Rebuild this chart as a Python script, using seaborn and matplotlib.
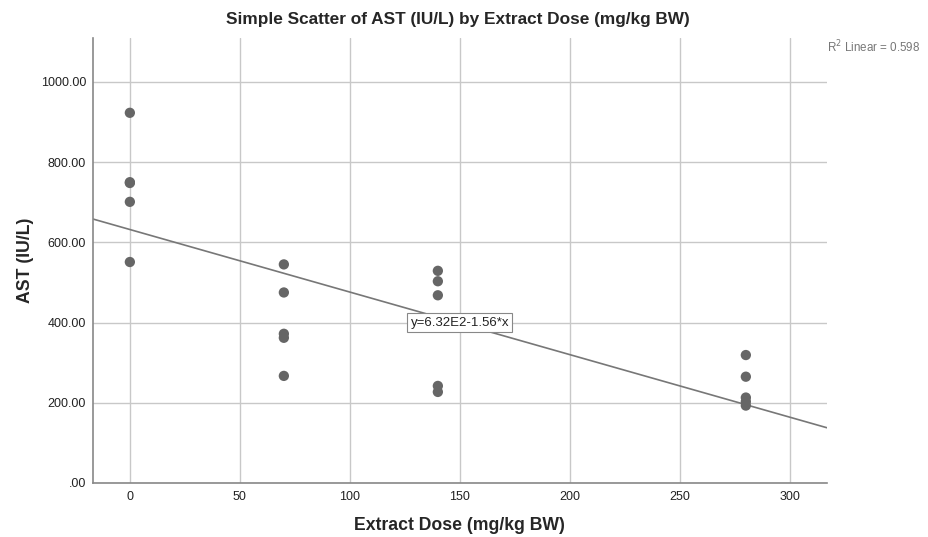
"""Simple scatter of AST against extract dose, with a linear fit line."""

import numpy as np
import pandas as pd
import matplotlib
matplotlib.use("Agg")
import matplotlib.pyplot as plt
import seaborn as sns

# Data
dose = [0, 0, 0, 0, 0,
        70, 70, 70, 70, 70,
        140, 140, 140, 140, 140,
        280, 280, 280, 280, 280]
ast = [923, 750, 748, 701, 551,
       545, 475, 372, 362, 267,
       529, 503, 468, 242, 227,
       319, 265, 213, 203, 193]

x_ticks = [0, 50, 100, 150, 200, 250, 300]
y_ticks = [0, 200, 400, 600, 800, 1000]
y_tick_labels = [".00", "200.00", "400.00", "600.00", "800.00", "1000.00"]

fit_label = "y=6.32E2-1.56*x"
r2_label = "R$^2$ Linear = 0.598"
intercept = 632.0
slope = -1.56

df = pd.DataFrame({"dose": dose, "ast": ast})

sns.set_style("white")
plt.rcParams["font.family"] = ["Liberation Sans", "DejaVu Sans"]

fig = plt.figure(figsize=(9.29, 5.37), dpi=100)
ax = fig.add_axes([0.100, 0.1006, 0.790, 0.829])

x_min, x_max = -16.8, 316.8
ax.set_xlim(x_min, x_max)
ax.set_ylim(0, 1110)

ax.set_axisbelow(True)
ax.grid(True, color="#c8c8c8", linewidth=1.0)

sns.scatterplot(data=df, x="dose", y="ast", ax=ax, color="#666666",
                s=55, edgecolor="none", zorder=3)

line_x = np.array([x_min, x_max])
sns.lineplot(x=line_x, y=intercept + slope * line_x, ax=ax,
             color="#777777", linewidth=1.2, zorder=2)

ax.text(150, 400, fit_label, ha="center", va="center", fontsize=9.5,
        color="#222222", zorder=4,
        bbox=dict(boxstyle="square,pad=0.25", facecolor="white",
                  edgecolor="#888888", linewidth=0.8))

fig.text(0.890, 0.912, r2_label, fontsize=8.4, color="#777777",
         ha="left", va="center")

ax.set_xticks(x_ticks)
ax.set_yticks(y_ticks)
ax.set_yticklabels(y_tick_labels)
ax.tick_params(length=0, labelsize=9, colors="#222222")
ax.tick_params(axis="y", pad=5)
ax.tick_params(axis="x", pad=6)

for side in ["top", "right"]:
    ax.spines[side].set_visible(False)
for side in ["left", "bottom"]:
    ax.spines[side].set_color("#888888")
    ax.spines[side].set_linewidth(1.2)

ax.set_xlabel("Extract Dose (mg/kg BW)", fontsize=12.7, fontweight="bold",
              labelpad=10)
ax.set_ylabel("AST (IU/L)", fontsize=12.7, fontweight="bold", labelpad=5)
fig.suptitle("Simple Scatter of AST (IU/L) by Extract Dose (mg/kg BW)",
             fontsize=12.4, fontweight="bold", x=0.493, y=0.978)

fig.savefig("out.png", dpi=100)
